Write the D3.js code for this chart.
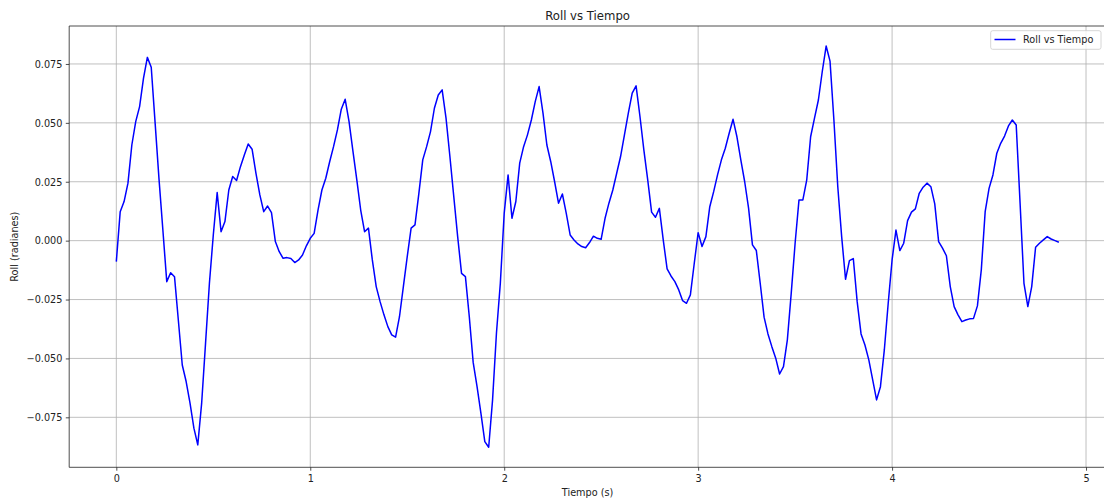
<!DOCTYPE html>
<html>
<head>
<meta charset="utf-8">
<script src="https://cdn.jsdelivr.net/npm/d3@7"></script>
<style>
  html, body { margin: 0; padding: 0; background: #fff; }
  svg { display: block; font-family: "DejaVu Sans", sans-serif; }
</style>
</head>
<body>
<svg id="chart" width="1104" height="504"></svg>
<script>
// Roll angle samples (radians) against time (seconds)
const tiempo = [
  0.00,0.02,0.04,0.06,0.08,0.10,0.12,0.14,0.16,0.18,0.20,0.22,0.24,0.26,0.28,0.30,0.32,0.34,0.36,0.38,
  0.40,0.42,0.44,0.46,0.48,0.50,0.52,0.54,0.56,0.58,0.60,0.62,0.64,0.66,0.68,0.70,0.72,0.74,0.76,0.78,
  0.80,0.82,0.84,0.86,0.88,0.90,0.92,0.94,0.96,0.98,1.00,1.02,1.04,1.06,1.08,1.10,1.12,1.14,1.16,1.18,
  1.20,1.22,1.24,1.26,1.28,1.30,1.32,1.34,1.36,1.38,1.40,1.42,1.44,1.46,1.48,1.50,1.52,1.54,1.56,1.58,
  1.60,1.62,1.64,1.66,1.68,1.70,1.72,1.74,1.76,1.78,1.80,1.82,1.84,1.86,1.88,1.90,1.92,1.94,1.96,1.98,
  2.00,2.02,2.04,2.06,2.08,2.10,2.12,2.14,2.16,2.18,2.20,2.22,2.24,2.26,2.28,2.30,2.32,2.34,2.36,2.38,
  2.40,2.42,2.44,2.46,2.48,2.50,2.52,2.54,2.56,2.58,2.60,2.62,2.64,2.66,2.68,2.70,2.72,2.74,2.76,2.78,
  2.80,2.82,2.84,2.86,2.88,2.90,2.92,2.94,2.96,2.98,3.00,3.02,3.04,3.06,3.08,3.10,3.12,3.14,3.16,3.18,
  3.20,3.22,3.24,3.26,3.28,3.30,3.32,3.34,3.36,3.38,3.40,3.42,3.44,3.46,3.48,3.50,3.52,3.54,3.56,3.58,
  3.60,3.62,3.64,3.66,3.68,3.70,3.72,3.74,3.76,3.78,3.80,3.82,3.84,3.86,3.88,3.90,3.92,3.94,3.96,3.98,
  4.00,4.02,4.04,4.06,4.08,4.10,4.12,4.14,4.16,4.18,4.20,4.22,4.24,4.26,4.28,4.30,4.32,4.34,4.36,4.38,
  4.40,4.42,4.44,4.46,4.48,4.50,4.52,4.54,4.56,4.58,4.60,4.62,4.64,4.66,4.68,4.70,4.72,4.74,4.76,4.78,
  4.80,4.82,4.84,4.86
];

const roll = [
  -0.0089,0.0123,0.0166,0.0244,0.0406,0.0505,0.0569,0.0689,0.0778,0.0736,0.0500,0.0262,0.0045,-0.0174,-0.0136,-0.0153,-0.0340,-0.0528,-0.0598,-0.0690,
  -0.0796,-0.0867,-0.0690,-0.0436,-0.0181,0.0024,0.0204,0.0038,0.0081,0.0215,0.0272,0.0255,0.0314,0.0364,0.0410,0.0388,0.0286,0.0194,0.0123,0.0147,
  0.0119,-0.0004,-0.0047,-0.0075,-0.0072,-0.0076,-0.0093,-0.0082,-0.0061,-0.0022,0.0010,0.0031,0.0130,0.0215,0.0265,0.0335,0.0399,0.0470,0.0558,0.0600,
  0.0505,0.0380,0.0258,0.0130,0.0038,0.0053,-0.0082,-0.0195,-0.0259,-0.0315,-0.0365,-0.0400,-0.0410,-0.0323,-0.0195,-0.0068,0.0053,0.0067,0.0201,0.0343,
  0.0399,0.0463,0.0562,0.0618,0.0640,0.0520,0.0357,0.0187,0.0017,-0.0139,-0.0153,-0.0323,-0.0517,-0.0620,-0.0733,-0.0853,-0.0877,-0.0676,-0.0393,-0.0181,
  0.0116,0.0279,0.0095,0.0166,0.0329,0.0399,0.0449,0.0512,0.0590,0.0654,0.0541,0.0406,0.0335,0.0250,0.0159,0.0198,0.0116,0.0024,0.0003,-0.0014,
  -0.0025,-0.0030,-0.0008,0.0019,0.0010,0.0006,0.0095,0.0159,0.0215,0.0286,0.0357,0.0449,0.0541,0.0626,0.0657,0.0527,0.0385,0.0258,0.0121,0.0099,
  0.0137,0.0003,-0.0120,-0.0150,-0.0174,-0.0209,-0.0255,-0.0266,-0.0230,-0.0096,0.0034,-0.0025,0.0017,0.0144,0.0208,0.0279,0.0343,0.0392,0.0456,0.0515,
  0.0441,0.0343,0.0250,0.0138,-0.0018,-0.0042,-0.0181,-0.0325,-0.0396,-0.0450,-0.0499,-0.0566,-0.0535,-0.0421,-0.0223,-0.0011,0.0173,0.0173,0.0258,0.0441,
  0.0520,0.0597,0.0718,0.0826,0.0762,0.0512,0.0229,0.0017,-0.0164,-0.0085,-0.0076,-0.0259,-0.0396,-0.0443,-0.0506,-0.0591,-0.0676,-0.0620,-0.0464,-0.0266,
  -0.0082,0.0045,-0.0042,-0.0011,0.0085,0.0121,0.0135,0.0201,0.0227,0.0244,0.0229,0.0156,-0.0004,-0.0032,-0.0064,-0.0195,-0.0280,-0.0315,-0.0344,-0.0337,
  -0.0332,-0.0330,-0.0277,-0.0124,0.0123,0.0222,0.0279,0.0371,0.0413,0.0444,0.0487,0.0512,0.0491,0.0159,-0.0181,-0.0280,-0.0195,-0.0028,-0.0011,0.0003,
  0.0017,0.0007,0.0000,-0.0007
];

const xTicks = [0, 1, 2, 3, 4, 5];
const yTicks = [-0.075, -0.050, -0.025, 0.000, 0.025, 0.050, 0.075];

const titulo = "Roll vs Tiempo";
const etiquetaX = "Tiempo (s)";
const etiquetaY = "Roll (radianes)";
const etiquetaSerie = "Roll vs Tiempo";

// Layout of the axes box (the right side runs just past the page edge)
const axLeft = 69.2, axRight = 1106, axTop = 26, axBottom = 467.3;
const tickFont = 9.7;

const svg = d3.select("#chart");
const datos = tiempo.map((t, i) => ({ t, v: roll[i] }));

// Axis limits with a 5% margin on each side of the data range
const [t0, t1] = d3.extent(tiempo);
const [v0, v1] = d3.extent(roll);
const mx = (t1 - t0) * 0.05, my = (v1 - v0) * 0.05;

const x = d3.scaleLinear().domain([t0 - mx, t1 + mx]).range([axLeft, axRight]);
const y = d3.scaleLinear().domain([v0 - my, v1 + my]).range([axBottom, axTop]);

const minus = s => s.replace("-", "\u2212");
const fmtY = d => minus(d3.format(".3f")(d));

// Grid lines
const grid = svg.append("g").attr("stroke", "#b0b0b0").attr("stroke-width", 0.8);
grid.selectAll("line.gx").data(xTicks).join("line").attr("class", "gx")
  .attr("x1", d => x(d)).attr("x2", d => x(d))
  .attr("y1", axTop).attr("y2", axBottom);
grid.selectAll("line.gy").data(yTicks).join("line").attr("class", "gy")
  .attr("x1", axLeft).attr("x2", axRight)
  .attr("y1", d => y(d)).attr("y2", d => y(d));

// Data line
svg.append("defs").append("clipPath").attr("id", "clip")
  .append("rect").attr("x", axLeft).attr("y", axTop)
  .attr("width", axRight - axLeft).attr("height", axBottom - axTop);

const linea = d3.line().x(d => x(d.t)).y(d => y(d.v));
svg.append("path")
  .datum(datos)
  .attr("clip-path", "url(#clip)")
  .attr("fill", "none")
  .attr("stroke", "#0000ff")
  .attr("stroke-width", 1.5)
  .attr("stroke-linejoin", "round")
  .attr("d", linea);

// Axes
const ejeX = d3.axisBottom(x).tickValues(xTicks).tickFormat(d3.format("d"))
  .tickSizeInner(3.4).tickSizeOuter(0).tickPadding(3.4);
const ejeY = d3.axisLeft(y).tickValues(yTicks).tickFormat(fmtY)
  .tickSizeInner(3.4).tickSizeOuter(0).tickPadding(3.4);

const gx = svg.append("g").attr("transform", `translate(0,${axBottom})`).call(ejeX);
const gy = svg.append("g").attr("transform", `translate(${axLeft},0)`).call(ejeY);

[gx, gy].forEach(g => {
  g.select(".domain").remove();
  g.selectAll(".tick line").attr("stroke", "#222").attr("stroke-width", 0.8);
  g.selectAll(".tick text")
    .attr("fill", "#222")
    .style("font-family", "'DejaVu Sans', sans-serif")
    .style("font-size", tickFont + "px");
});
gx.selectAll(".tick text").attr("dy", null).attr("y", 14.6);
gy.selectAll(".tick text").attr("dy", "0.34em");

// Spines
const spines = svg.append("g").attr("stroke", "#222").attr("stroke-width", 0.8).attr("fill", "none");
spines.append("line").attr("x1", axLeft).attr("x2", axRight).attr("y1", axTop).attr("y2", axTop);
spines.append("line").attr("x1", axLeft).attr("x2", axRight).attr("y1", axBottom).attr("y2", axBottom);
spines.append("line").attr("x1", axLeft).attr("x2", axLeft).attr("y1", axTop).attr("y2", axBottom);
spines.append("line").attr("x1", axRight).attr("x2", axRight).attr("y1", axTop).attr("y2", axBottom);

// Title and axis labels
const cx = (axLeft + axRight) / 2;
svg.append("text").attr("x", cx).attr("y", 20)
  .attr("text-anchor", "middle").attr("fill", "#222")
  .style("font-size", "11.7px").text(titulo);

svg.append("text").attr("x", cx).attr("y", 496)
  .attr("text-anchor", "middle").attr("fill", "#222")
  .style("font-size", tickFont + "px").text(etiquetaX);

svg.append("text")
  .attr("transform", `translate(17.5,${(axTop + axBottom) / 2}) rotate(-90)`)
  .attr("text-anchor", "middle").attr("fill", "#222")
  .style("font-size", tickFont + "px").text(etiquetaY);

// Legend
const leg = svg.append("g");
leg.append("rect")
  .attr("x", 990.7).attr("y", 30.7).attr("width", 110.3).attr("height", 18.6)
  .attr("rx", 2).attr("ry", 2)
  .attr("fill", "#ffffff").attr("fill-opacity", 0.8)
  .attr("stroke", "#cccccc").attr("stroke-width", 0.8);
leg.append("line")
  .attr("x1", 994.5).attr("x2", 1015.5).attr("y1", 39.5).attr("y2", 39.5)
  .attr("stroke", "#0000ff").attr("stroke-width", 1.5);
leg.append("text")
  .attr("x", 1023).attr("y", 43)
  .attr("fill", "#222").style("font-size", tickFont + "px")
  .text(etiquetaSerie);
</script>
</body>
</html>
